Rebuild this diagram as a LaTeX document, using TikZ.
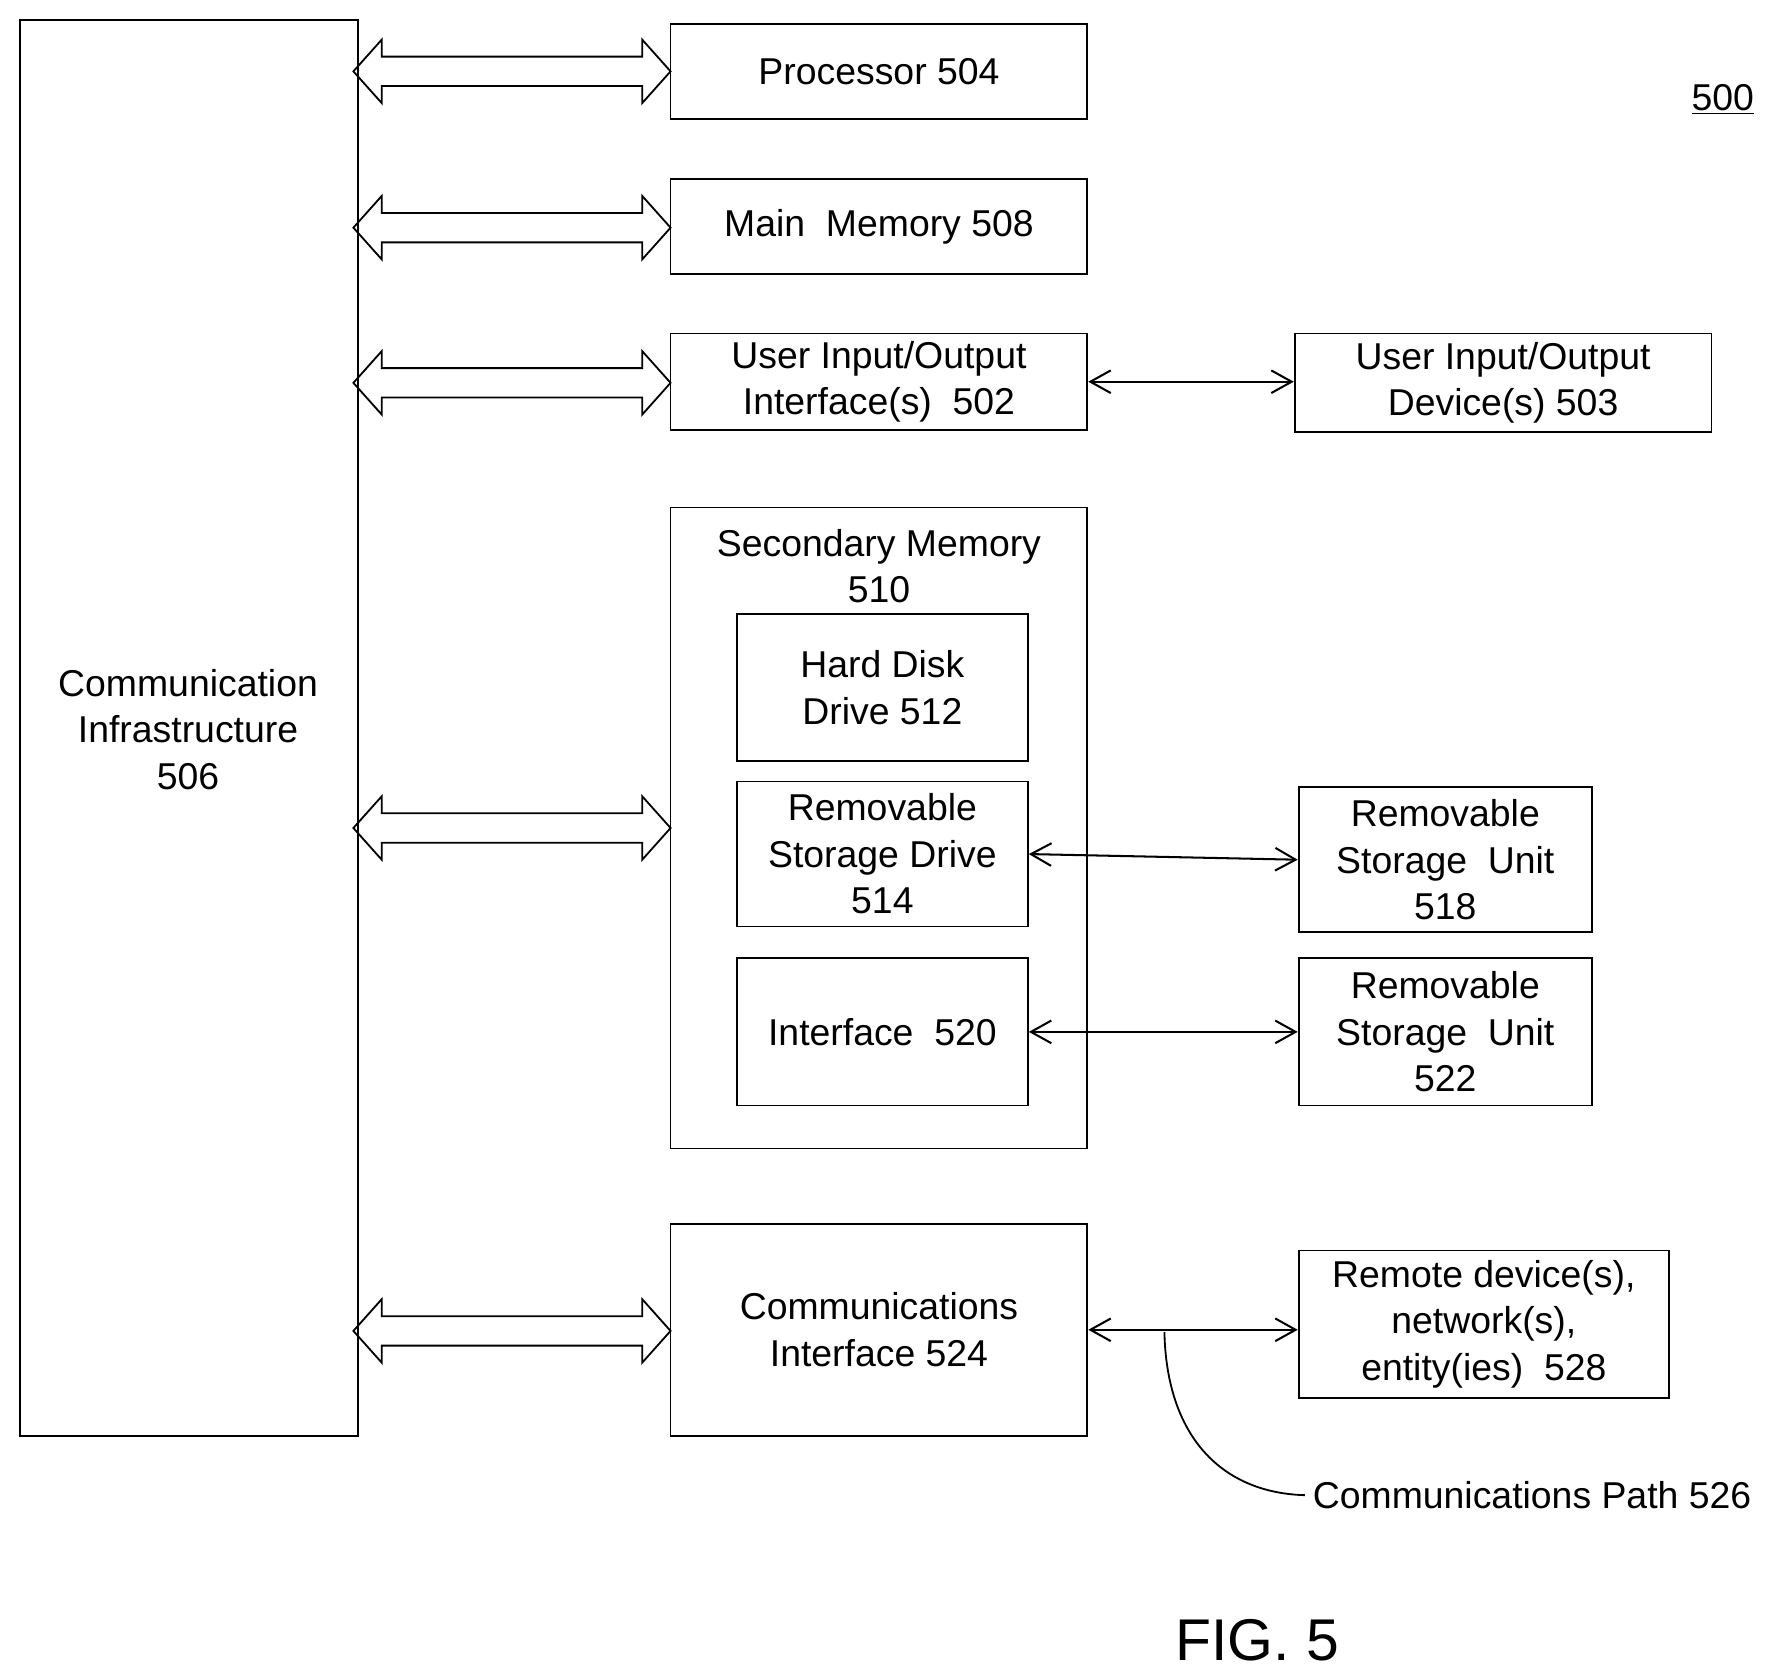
\documentclass[tikz,border=0pt]{standalone}
\usepackage{fontspec}
\setmainfont{Liberation Sans}
\usetikzlibrary{arrows.meta}
\begin{document}
\begin{tikzpicture}[x=0.5pt,y=-0.5pt,
  box/.style={draw,line width=0.8pt,align=center,inner sep=0pt,font=\fontsize{16.5pt}{20.5pt}\selectfont},
  lbl/.style={align=center,font=\fontsize{16.5pt}{20.5pt}\selectfont},
  thin/.style={line width=0.9pt,{Straight Barb[length=9pt,width=10pt]}-{Straight Barb[length=9pt,width=10pt]}},
  dbl/.pic={\draw[line width=0.8pt] (0,0)--(25,-28)--(25,-13)--(255,-13)--(255,-28)--(280,0)--(255,28)--(255,13)--(25,13)--(25,28)--cycle;}]
\useasboundingbox (0,0) rectangle (1560,1478);
\node[box,minimum width=149pt,minimum height=625pt] (ci) at (167,643) {};
\node[lbl] (cit) at (166,644) {Communication\\Infrastructure\\506};
\node[box,minimum width=184pt,minimum height=42pt] (p) at (776,63) {Processor 504};
\node[box,minimum width=184pt,minimum height=42pt] (mm) at (776,200) {Main\ \ Memory 508};
\node[box,minimum width=184pt,minimum height=42.5pt] (ui) at (776,337) {User Input/Output\\Interface(s)\ \ 502};
\node[box,minimum width=184pt,minimum height=43.5pt] (ud) at (1327,338) {User Input/Output\\Device(s) 503};
\node[box,minimum width=184pt,minimum height=283pt] (sm) at (776,731) {};
\node[lbl] (smt) at (776,500) {Secondary Memory\\510};
\node[box,minimum width=128.5pt,minimum height=65pt] (hd) at (779,607) {Hard Disk\\Drive 512};
\node[box,minimum width=128.5pt,minimum height=64pt] (rd) at (779,754) {Removable\\Storage Drive\\514};
\node[box,minimum width=128.5pt,minimum height=65pt] (if) at (779,911) {Interface\ \ 520};
\node[box,minimum width=129.5pt,minimum height=64pt] (r18) at (1276,759) {Removable\\Storage\ \ Unit\\518};
\node[box,minimum width=129.5pt,minimum height=65pt] (r22) at (1276,911) {Removable\\Storage\ \ Unit\\522};
\node[box,minimum width=184pt,minimum height=93.5pt] (cm) at (776,1174) {Communications\\Interface 524};
\node[box,minimum width=163.5pt,minimum height=65pt] (rm) at (1310,1169) {Remote device(s),\\network(s),\\entity(ies)\ \ 528};
\node[lbl,anchor=west] (cp) at (1152,1320) {Communications Path 526};
\node[lbl] (n500) at (1521,88) {\underline{500}};
\node[font=\fontsize{26pt}{30pt}\selectfont] (fig) at (1110,1448) {FIG. 5};
\foreach \y in {63,201,338,731,1175} \pic at (312,\y) {dbl};
\draw[thin] (ui.east) -- (ui.east -| ud.west);
\draw[thin] (rd.east) -- (r18.west);
\draw[thin] (if.east) -- (r22.west);
\draw[thin] (cm.east) -- (cm.east -| rm.west);
\coordinate (cs) at (1028,1176);
\draw[line width=0.8pt] (cs) .. controls (1030,1270) and (1080,1318) .. (cp.west);
\end{tikzpicture}
\end{document}
